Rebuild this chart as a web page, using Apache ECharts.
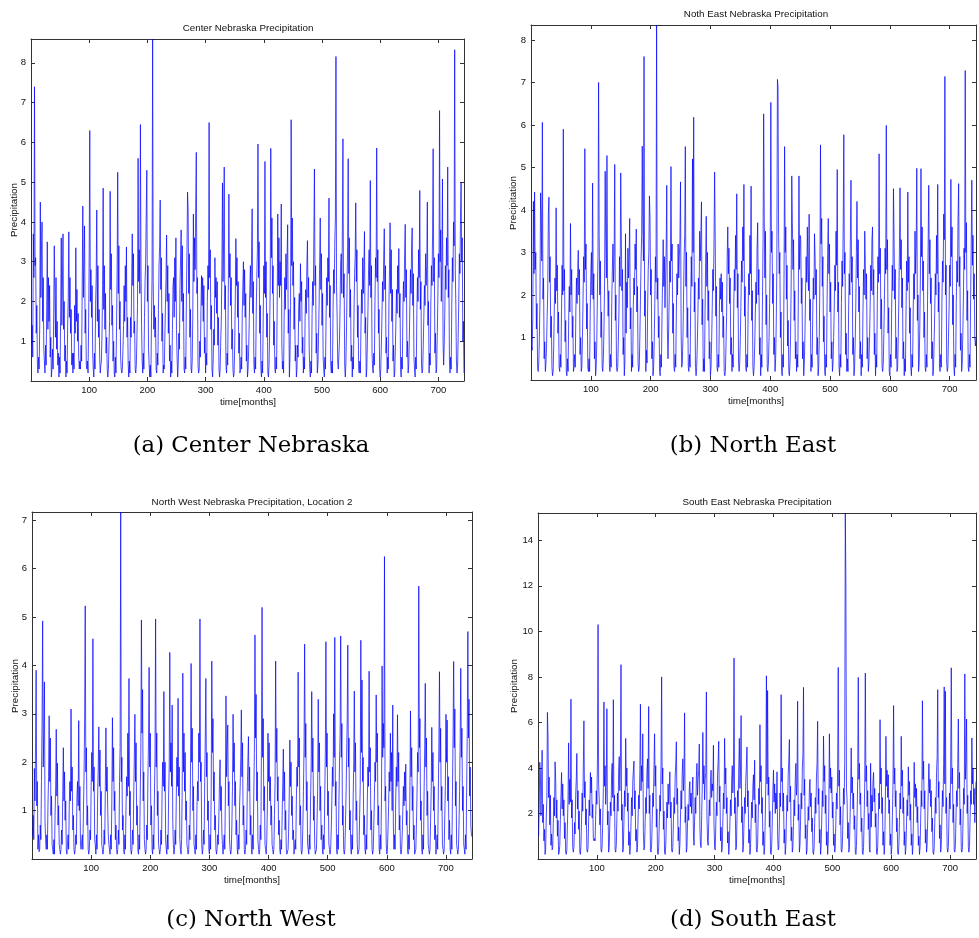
<!DOCTYPE html>
<html>
<head>
<meta charset="utf-8">
<script src="https://cdn.jsdelivr.net/npm/echarts@6/dist/echarts.min.js"></script>
<style>html,body{margin:0;padding:0;background:#fff;}#c{width:979px;height:938px;}</style>
</head>
<body>
<div id="c"></div>
<script>
// Monthly precipitation, months 1..744 (12 values per row = one year)
const centerVals = [
0.9,1.4,0.6,3.7,2.6,7.4,2.9,3.1,1.2,1.9,0.4,0.2,
0.6,0.3,1.4,4.5,2.1,3.3,4.0,1.5,2.6,0.8,0.5,0.2,
0.9,0.4,1.9,3.5,1.3,2.6,1.5,2.4,0.6,1.1,0.1,0.3,
0.8,0.3,1.7,3.4,2.2,1.1,2.6,0.8,1.5,0.4,0.7,0.1,
0.6,0.2,1.8,3.6,1.4,2.4,3.7,1.3,2.0,0.5,0.9,0.1,
0.5,0.2,1.4,2.1,3.75,1.6,2.6,1.2,1.8,0.4,0.7,0.2,
0.7,0.3,1.9,1.2,3.35,1.5,2.3,1.0,1.7,0.6,0.3,0.5,
0.3,0.9,0.5,2.4,4.4,2.1,3.0,3.9,1.2,1.8,0.4,0.3,
0.5,0.2,1.4,3.2,6.3,2.0,2.8,1.6,2.4,0.7,0.3,0.1,
0.7,0.3,1.9,2.6,4.3,1.5,2.9,1.1,1.8,0.6,0.2,0.4,
0.5,1.2,2.4,4.85,1.8,2.9,1.3,2.2,0.7,1.1,0.3,0.1,
0.3,0.9,1.5,4.77,2.3,3.2,1.4,1.9,0.5,1.0,0.2,0.1,
0.6,0.2,1.4,2.8,5.25,2.2,3.4,1.3,2.0,0.6,0.3,0.2,
0.3,0.8,1.4,2.4,1.5,2.9,2.0,3.37,1.1,1.6,0.4,0.1,
0.5,0.2,1.6,1.1,2.6,3.7,2.4,3.2,1.2,1.5,0.3,0.2,
0.4,1.1,1.9,5.6,2.5,3.3,2.2,6.45,2.9,1.4,0.5,0.2,
0.7,0.3,1.6,2.5,3.0,4.2,5.3,2.0,2.9,0.8,0.4,0.1,
0.4,0.1,1.5,2.6,8.6,2.5,1.3,1.9,1.1,1.6,0.3,0.2,
0.7,0.4,1.8,2.9,3.4,4.55,2.3,3.1,1.0,1.7,0.2,0.4,
0.3,1.1,1.9,2.6,3.67,2.0,2.9,1.2,2.2,0.5,0.9,0.1,
0.5,0.2,1.3,2.4,2.6,1.6,3.1,2.0,3.6,1.3,0.6,0.1,
0.4,1.2,0.8,2.4,3.1,3.8,2.0,3.4,1.5,2.2,0.3,0.2,
0.6,0.3,2.1,3.3,4.75,4.3,2.2,3.2,1.1,1.8,0.3,0.2,
0.5,1.6,4.2,2.5,3.6,2.8,4.4,5.75,2.2,2.6,0.4,0.2,
0.3,1.0,0.6,1.8,2.65,1.9,2.6,1.5,2.4,0.7,1.1,0.2,
0.7,0.4,2.0,2.9,2.3,6.5,2.6,3.3,1.3,1.9,0.3,0.1,
0.5,1.3,0.9,3.1,2.1,2.6,1.7,2.5,0.9,1.6,0.3,0.1,
0.3,1.0,1.5,2.9,4.98,2.5,3.6,5.38,1.8,2.4,0.4,0.2,
0.7,0.4,2.2,4.7,2.6,3.2,1.9,2.6,0.8,1.3,0.3,0.1,
0.2,0.9,2.0,3.58,2.4,3.1,1.6,2.5,0.7,1.2,0.2,0.3,
0.6,0.3,1.7,2.4,3.0,1.9,2.8,1.6,2.2,0.5,0.9,0.1,
0.3,0.8,1.5,2.3,2.9,2.1,3.2,4.33,1.7,2.5,0.4,0.2,
0.6,0.3,1.7,2.6,3.3,5.96,2.6,3.5,1.2,1.9,0.3,0.1,
0.5,0.2,1.6,2.9,2.2,5.52,2.1,3.0,1.1,1.7,0.2,0.1,
0.4,1.2,2.3,5.85,3.1,4.1,2.2,2.9,0.9,1.5,0.3,0.2,
0.6,0.3,1.9,4.2,2.4,3.6,2.1,3.0,2.4,4.45,1.0,0.3,
0.5,0.2,1.6,2.6,1.8,3.2,2.3,3.1,3.93,1.2,1.8,0.1,
0.6,1.9,6.57,2.9,4.1,2.4,3.0,1.3,2.1,0.5,0.9,0.1,
0.3,0.9,0.6,1.9,2.2,1.5,2.95,2.0,2.5,0.7,1.1,0.2,
0.6,0.3,1.6,2.3,1.7,2.9,3.53,2.1,2.6,0.8,0.3,0.1,
0.5,0.2,1.7,2.5,1.9,3.6,5.33,2.4,2.9,0.7,1.2,0.2,
0.4,1.1,1.9,3.0,4.1,2.3,3.2,1.4,2.2,0.6,0.3,0.1,
0.6,0.3,1.6,2.6,1.9,3.1,2.5,4.6,1.6,2.4,0.4,0.2,
0.5,0.2,1.8,2.8,2.2,3.5,4.1,8.16,2.4,1.6,0.5,0.3,
0.3,1.0,1.8,2.9,3.2,2.2,3.8,6.09,2.1,2.7,0.4,0.1,
0.4,1.2,2.3,3.4,5.59,2.7,3.6,1.6,2.3,0.5,0.9,0.1,
0.6,0.3,1.7,2.7,3.1,4.48,2.5,3.3,1.1,1.9,0.3,0.2,
0.5,0.2,1.4,2.3,1.7,3.1,2.2,2.9,3.76,1.2,1.6,0.1,
0.3,1.0,1.8,2.8,3.3,2.4,5.04,2.1,2.9,0.7,0.3,0.2,
0.7,0.4,2.0,3.1,2.6,5.86,2.5,3.3,1.2,1.8,0.3,0.1,
0.3,0.9,1.6,2.5,2.0,3.1,3.83,2.3,2.9,0.7,1.1,0.2,
0.6,0.3,1.9,2.8,3.98,2.2,3.3,1.5,2.3,0.5,0.9,0.1,
0.2,0.8,1.5,2.3,1.7,2.9,2.2,3.33,1.6,2.2,0.3,0.1,
0.6,0.3,1.8,2.5,2.0,3.2,3.94,2.1,2.8,0.6,1.0,0.2,
0.4,1.0,1.9,2.8,2.2,3.4,3.85,1.9,2.7,0.6,0.3,0.1,
0.6,0.3,1.7,2.6,2.0,3.3,2.6,4.79,1.8,2.5,0.4,0.2,
0.3,0.9,1.6,2.4,1.9,3.2,2.4,2.9,4.5,1.4,2.0,0.2,
0.7,0.4,1.9,2.9,2.4,3.7,5.84,2.5,3.1,0.7,1.2,0.2,
0.3,1.1,2.0,3.2,2.6,6.8,3.0,3.8,2.0,2.9,5.08,1.0,
0.4,0.9,1.7,2.9,2.3,3.6,2.9,5.38,2.1,2.8,0.5,0.2,
0.6,0.3,1.9,3.1,2.5,4.0,3.4,8.33,2.8,1.9,0.5,0.2,
0.4,1.1,2.0,3.2,2.7,4.1,5.0,3.0,3.6,1.0,1.5,0.2
];
const northEastVals = [
0.8,0.7,1.5,4.2,2.5,4.42,2.6,3.0,1.2,1.8,0.3,0.2,
0.4,1.0,1.9,4.4,3.9,2.8,6.06,1.9,2.4,0.5,0.9,0.2,
0.4,0.8,1.5,2.1,3.9,4.3,2.3,2.9,1.0,1.5,0.3,0.1,
0.2,0.8,1.7,2.4,1.8,4.05,2.1,2.7,1.1,1.6,0.3,0.2,
0.6,0.3,1.6,2.7,2.0,5.9,2.1,2.6,0.9,1.4,0.2,0.1,
0.5,0.2,1.4,2.2,1.6,3.68,2.0,2.6,1.0,1.5,0.2,0.3,
0.6,0.3,1.6,2.4,1.8,2.5,3.05,2.0,2.6,0.6,1.0,0.2,
0.3,1.0,1.9,2.9,2.3,5.44,2.6,3.2,1.2,1.8,0.3,0.2,
0.5,0.2,1.6,2.5,3.0,2.0,4.63,1.9,2.5,0.5,0.9,0.1,
0.3,0.9,2.0,2.9,7.0,3.4,2.0,2.8,1.0,1.6,0.3,0.2,
0.5,1.2,2.3,4.91,3.3,2.4,5.28,2.4,1.5,2.1,0.4,0.2,
0.6,0.3,1.8,2.6,3.2,2.3,2.9,5.07,1.4,2.0,0.3,0.2,
0.3,0.9,1.6,2.9,2.2,4.87,3.4,2.1,2.6,0.6,1.0,0.1,
0.4,3.44,1.1,2.3,1.7,3.1,2.4,2.9,3.8,1.2,1.7,0.2,
0.6,0.3,1.7,2.4,2.0,3.2,2.6,3.55,1.6,2.2,0.4,0.2,
0.3,1.0,1.9,2.8,3.4,5.5,3.6,2.8,7.61,1.5,2.1,0.2,
0.7,0.4,1.7,2.6,3.0,4.33,3.8,2.0,2.6,0.5,0.9,0.1,
0.3,0.9,1.8,2.9,2.3,8.35,1.9,2.4,1.0,1.5,0.2,0.1,
0.6,0.3,1.5,2.4,3.3,2.2,2.9,1.7,2.4,3.1,4.58,1.2,
0.5,1.1,1.9,2.8,2.3,5.02,2.8,3.2,1.1,1.8,0.3,0.2,
0.6,0.3,1.6,2.5,2.0,3.2,2.4,2.9,3.3,4.66,1.1,0.3,
0.4,1.0,1.9,2.9,3.4,5.49,2.2,3.0,1.0,1.7,0.3,0.2,
0.6,0.3,1.8,2.9,2.2,5.2,3.0,6.18,1.6,2.3,0.3,0.1,
0.3,0.8,1.5,2.4,1.9,3.5,2.8,3.4,4.19,1.3,1.9,0.2,
0.5,0.2,1.6,2.8,3.85,2.2,3.0,1.4,2.1,0.5,0.9,0.1,
0.3,0.9,1.7,2.6,2.1,3.3,4.89,3.3,1.5,2.2,0.3,0.2,
0.6,0.3,1.7,2.4,1.9,2.5,1.6,2.3,1.0,1.5,0.2,0.1,
0.2,0.8,1.5,2.9,3.6,2.5,3.1,1.8,2.4,0.6,1.0,0.2,
0.6,0.3,1.7,2.6,2.1,3.4,2.6,4.38,1.7,2.5,0.4,0.2,
0.4,1.0,1.8,2.8,2.3,3.6,2.8,4.6,1.5,2.2,0.3,0.2,
0.6,0.3,1.6,2.5,2.0,3.4,2.5,4.56,1.4,2.1,0.3,0.1,
0.3,0.8,1.5,2.3,1.8,3.1,3.7,2.0,2.6,0.6,1.0,0.1,
0.6,0.3,1.9,3.3,6.26,3.8,2.4,3.5,1.3,2.0,0.3,0.2,
0.4,1.0,1.8,3.1,6.53,3.0,3.5,1.8,2.5,0.6,1.0,0.2,
0.5,1.3,2.6,7.07,6.9,3.4,2.5,3.0,1.0,1.6,0.2,0.1,
0.6,0.3,2.3,5.49,3.0,3.6,1.9,2.7,0.8,1.4,0.2,0.1,
0.4,1.1,2.3,4.8,3.7,2.6,3.3,1.4,2.1,0.5,0.9,0.2,
0.6,0.3,2.0,4.8,2.6,3.4,3.3,1.8,2.4,0.5,0.9,0.1,
0.4,1.1,2.0,2.9,2.3,3.6,2.6,2.1,3.9,1.4,1.9,0.2,
0.6,0.3,1.5,2.4,1.9,3.44,2.9,2.0,2.6,0.6,1.0,0.1,
0.3,1.0,2.4,5.53,3.2,3.8,2.2,2.9,0.9,1.5,0.2,0.1,
0.6,0.3,1.8,3.0,3.8,2.5,3.2,1.6,2.3,0.5,0.9,0.2,
0.4,1.0,1.7,2.7,2.1,3.5,2.7,4.95,1.6,2.3,0.3,0.1,
0.6,0.3,1.8,2.8,2.2,3.7,5.77,2.5,3.0,0.6,1.1,0.2,
0.5,0.2,1.6,2.5,2.0,3.4,4.7,2.3,2.9,0.6,1.0,0.1,
0.3,0.9,1.7,3.0,4.2,2.4,3.3,1.6,2.2,0.5,0.9,0.1,
0.6,0.3,1.6,2.6,2.0,3.5,2.7,1.9,2.5,0.5,1.0,0.2,
0.4,1.0,1.7,2.7,2.1,3.3,3.6,2.0,2.6,0.6,1.1,0.1,
0.6,0.3,1.8,2.9,2.3,5.32,2.5,3.1,1.2,1.9,0.3,0.2,
0.4,1.1,2.0,3.1,2.5,5.99,2.6,3.3,1.1,1.7,0.2,0.1,
0.6,0.3,1.7,2.7,2.1,4.5,3.4,1.9,2.6,0.5,1.0,0.2,
0.3,1.0,1.9,3.1,4.52,2.6,3.3,1.7,2.4,0.5,0.9,0.1,
0.5,0.2,1.6,2.8,2.1,4.42,2.3,2.9,1.1,1.7,0.3,0.1,
0.6,0.3,1.6,2.5,1.9,3.5,2.5,3.2,4.98,1.4,2.0,0.2,
0.4,1.2,2.4,4.97,2.9,3.6,2.1,2.8,1.0,1.6,0.3,0.2,
0.6,0.3,1.9,3.2,4.58,2.5,3.3,1.8,2.4,0.5,0.9,0.1,
0.3,0.9,1.6,2.5,2.0,3.4,2.5,4.6,1.6,2.3,0.3,0.2,
0.6,0.3,1.8,2.8,2.3,3.9,3.3,7.14,2.0,2.7,0.4,0.2,
0.3,1.0,1.7,2.7,2.2,4.72,2.9,3.6,1.3,2.0,0.3,0.1,
0.6,0.3,1.8,2.8,2.3,3.8,4.62,2.2,2.9,0.7,1.1,0.2,
0.4,1.1,2.0,3.1,2.6,7.28,3.0,3.7,1.4,2.1,0.3,0.2,
0.6,0.3,1.9,3.2,4.7,2.7,3.4,1.9,2.5,1.0,0.8,1.0
];
const northWestVals = [
0.46,0.9,0.4,1.87,1.2,2.4,3.9,1.1,1.6,0.2,0.5,0.15,
0.2,0.7,0.4,1.6,2.8,4.92,1.9,2.6,3.66,0.8,0.4,0.2,
0.5,0.2,1.1,1.7,2.96,1.6,2.5,0.9,1.3,0.3,0.2,0.1,
0.4,0.1,0.9,1.5,2.68,1.3,1.98,0.7,1.1,0.3,0.2,0.1,
0.2,0.6,0.3,1.4,2.3,1.2,1.8,0.8,1.2,0.2,0.1,0.1,
0.5,0.2,1.1,1.6,1.2,3.1,1.4,1.9,0.6,0.9,0.2,0.1,
0.2,0.5,0.3,1.3,1.6,1.1,2.86,1.0,1.5,0.3,0.2,0.2,
0.5,0.2,1.0,1.7,2.87,5.23,1.8,2.3,0.7,1.1,0.2,0.1,
0.2,0.6,0.4,1.5,2.2,1.6,4.55,1.4,1.9,0.4,0.3,0.1,
0.5,0.2,1.3,1.9,2.73,1.5,2.25,0.9,1.4,0.3,0.2,0.1,
0.2,0.6,0.3,1.5,2.71,1.4,1.9,1.08,0.5,0.3,0.2,0.1,
0.5,0.2,1.2,2.92,1.6,2.3,1.0,1.4,0.4,0.7,0.2,0.1,
0.2,0.6,0.3,1.6,2.3,7.17,1.6,2.1,0.6,0.9,0.2,0.1,
0.5,0.2,1.1,1.7,1.3,2.6,1.5,3.73,0.9,1.4,0.2,0.1,
0.2,0.6,0.3,1.3,2.1,2.99,1.6,2.4,0.7,1.1,0.2,0.1,
0.5,0.2,1.3,2.2,4.94,2.6,3.5,1.2,1.8,0.4,0.2,0.1,
0.2,0.7,0.4,1.7,2.4,3.96,1.9,2.6,0.7,1.1,0.2,0.1,
0.5,0.2,1.3,2.1,4.96,1.9,2.6,0.9,1.4,0.3,0.2,0.1,
0.2,0.6,0.3,1.4,2.0,1.5,3.46,1.4,2.0,0.4,0.2,0.1,
0.5,0.2,1.3,1.9,4.27,1.8,2.4,1.5,3.18,0.8,0.3,0.1,
0.2,0.6,0.3,1.3,2.1,1.5,3.32,1.3,1.9,0.4,0.2,0.1,
0.4,1.5,3.84,1.8,2.6,1.4,2.2,0.8,1.2,0.3,0.2,0.1,
0.2,0.7,0.4,1.8,4.04,2.0,2.7,1.0,1.5,0.3,0.2,0.1,
0.5,0.2,1.1,1.6,1.2,2.6,2.0,4.96,1.6,2.0,0.3,0.1,
0.2,0.6,0.3,1.6,2.5,3.73,1.7,2.2,0.8,1.2,0.2,0.1,
0.5,0.2,1.4,4.09,2.2,2.9,1.2,1.8,0.6,0.9,0.2,0.1,
0.2,0.5,0.3,0.9,1.6,2.05,1.0,1.5,0.6,0.3,0.1,0.1,
0.5,0.2,1.3,3.37,1.7,2.3,2.77,1.1,1.6,0.4,0.2,0.1,
0.2,0.7,1.5,2.99,1.8,2.4,1.1,1.6,0.5,0.8,0.2,0.1,
0.5,0.2,1.1,1.5,2.1,3.08,1.7,2.4,0.7,1.1,0.2,0.1,
0.2,0.6,0.3,1.4,2.0,2.53,1.4,1.9,0.5,0.9,0.2,0.1,
0.5,0.2,1.3,2.2,4.63,2.5,3.4,1.2,1.8,0.4,0.2,0.1,
0.2,0.7,0.4,2.4,5.2,2.1,2.9,1.0,1.5,0.3,0.2,0.1,
0.4,1.1,2.6,1.6,2.4,1.2,1.7,0.7,1.1,0.3,0.2,0.1,
0.2,0.9,1.6,4.09,2.0,2.7,1.2,1.7,0.5,0.8,0.2,0.1,
0.4,0.2,0.9,1.6,2.27,1.2,1.8,0.6,1.0,0.2,0.1,0.1,
0.2,0.6,1.3,2.46,1.5,2.0,0.9,1.3,0.4,0.6,0.1,0.1,
0.4,0.2,1.2,1.9,1.5,3.86,1.9,2.5,0.7,1.1,0.2,0.1,
0.2,0.7,1.4,2.3,4.44,2.1,2.8,1.0,1.6,0.3,0.2,0.1,
0.5,0.2,1.2,1.9,3.46,1.8,2.5,0.8,1.3,0.3,0.1,0.1,
0.2,0.8,1.4,3.3,1.8,2.4,1.0,1.5,0.4,0.7,0.2,0.1,
0.5,0.2,1.3,2.2,4.49,1.9,2.6,0.9,1.4,0.3,0.2,0.1,
0.2,0.6,1.2,1.9,1.5,3.0,2.1,4.58,1.1,1.6,0.2,0.1,
0.5,0.2,1.2,2.0,2.6,4.61,2.1,2.8,0.7,1.1,0.2,0.1,
0.2,0.7,1.3,2.1,2.9,4.42,1.9,2.5,0.6,1.0,0.2,0.1,
0.5,0.2,1.2,2.0,3.47,1.8,2.4,0.8,1.2,0.3,0.1,0.1,
0.2,0.9,1.5,4.52,2.2,3.7,1.6,2.1,0.5,0.9,0.2,0.1,
0.5,0.2,1.2,1.9,1.5,3.88,1.8,2.3,0.6,1.0,0.2,0.1,
0.2,0.7,1.3,2.0,1.6,3.39,2.0,2.6,0.7,1.1,0.2,0.1,
0.5,0.2,1.4,3.99,2.1,2.8,2.3,6.25,1.2,1.5,0.3,0.1,
0.2,0.6,1.1,1.8,1.4,2.6,1.6,2.2,1.0,3.18,0.7,0.2,
0.5,0.2,1.2,1.9,1.5,2.98,1.6,2.2,0.6,0.9,0.2,0.1,
0.2,0.5,1.0,1.5,1.1,1.8,1.2,1.96,0.7,1.0,0.2,0.1,
0.5,0.2,1.4,3.06,1.7,2.3,1.0,1.5,0.4,0.7,0.1,0.1,
0.2,0.7,1.3,2.2,1.8,5.64,2.3,2.9,0.8,1.2,0.2,0.1,
0.5,0.2,1.4,2.3,3.63,1.9,2.5,0.9,1.4,0.3,0.2,0.1,
0.2,0.8,1.4,2.72,1.6,2.2,1.0,1.5,0.4,0.7,0.1,0.1,
0.5,0.2,1.3,2.4,3.87,2.0,2.7,1.0,1.5,0.3,0.2,0.1,
0.2,0.9,1.5,2.99,2.0,2.87,1.2,1.7,0.4,0.8,0.2,0.1,
0.5,0.2,1.4,2.6,4.08,2.3,3.1,1.1,1.6,0.3,0.2,0.1,
0.2,0.7,1.4,2.5,3.94,2.1,2.7,1.0,1.5,0.3,0.2,0.1,
0.5,0.2,1.5,2.7,4.7,2.5,3.3,1.3,1.9,0.7,0.5,0.46
];
const southEastVals = [
1.0,2.2,4.25,3.86,1.9,3.1,4.78,1.6,2.4,0.8,1.3,0.2,
0.4,1.8,2.6,6.44,5.4,2.7,3.6,1.5,2.8,0.6,1.1,0.4,
0.5,1.6,2.7,1.9,4.27,3.5,1.8,2.6,1.0,1.7,0.2,0.3,
0.6,1.7,2.8,3.8,2.2,3.3,1.9,2.6,0.9,1.6,0.3,0.2,
0.4,1.5,2.6,5.1,2.4,3.5,2.5,7.02,1.8,2.6,0.5,0.3,
0.5,1.6,1.1,2.8,3.5,4.64,2.2,3.0,1.3,2.1,0.3,0.2,
0.6,1.8,2.9,2.1,4.1,6.07,2.7,3.4,1.5,2.2,0.4,0.3,
0.5,1.7,2.6,1.9,3.8,2.9,3.6,1.8,2.4,0.9,0.8,0.9,
0.8,1.9,3.0,2.4,4.4,10.3,3.3,2.6,1.5,2.2,0.4,0.3,
0.6,1.7,3.1,6.9,3.2,4.1,2.4,3.3,6.6,1.5,2.1,0.3,
0.5,1.6,2.5,1.9,3.7,4.2,2.7,7.0,2.1,2.8,0.4,0.3,
0.6,1.8,2.9,2.1,3.9,4.5,3.0,4.2,8.54,1.7,2.4,0.3,
0.5,1.7,3.0,2.3,5.3,3.2,4.0,2.1,2.9,0.6,1.2,0.2,
0.6,1.6,2.7,1.9,3.4,3.9,4.3,2.2,3.0,0.8,1.3,0.3,
0.5,1.8,2.8,2.2,3.9,6.8,3.0,4.1,3.4,5.5,1.2,0.4,
0.5,1.6,2.7,2.0,3.8,4.4,3.1,6.7,2.0,2.8,0.4,0.3,
0.6,1.7,2.9,2.3,4.0,5.5,3.2,4.1,1.4,2.2,0.3,0.2,
0.5,1.6,2.8,2.1,4.3,8.0,3.3,4.0,1.3,2.1,0.3,0.2,
0.6,1.7,2.5,1.8,3.3,2.4,3.0,3.83,1.8,2.5,0.4,0.3,
0.5,1.6,2.7,2.0,3.6,4.2,5.15,2.4,3.1,0.8,1.4,0.2,
0.6,1.8,3.0,2.2,3.8,4.4,3.0,3.7,6.42,1.6,2.3,0.3,
0.5,1.6,2.4,1.7,3.1,3.4,2.3,2.9,2.0,2.9,3.6,1.1,
0.6,1.7,2.7,2.0,3.6,4.2,2.8,3.5,3.9,5.05,1.4,0.6,
0.5,1.9,3.1,5.56,3.3,4.1,2.6,3.5,3.8,7.34,1.9,0.8,
0.6,1.6,2.6,1.9,3.4,3.9,2.7,3.3,3.0,5.0,1.5,0.5,
0.4,1.5,2.5,1.9,3.7,4.3,5.17,2.5,3.2,0.8,1.4,0.3,
0.5,1.7,2.9,2.2,5.3,3.3,4.0,2.0,2.7,0.7,1.2,0.2,
0.6,1.6,2.6,1.9,3.5,4.1,2.9,3.6,8.83,2.0,2.7,0.4,
0.5,1.8,3.0,2.3,4.0,5.3,3.1,3.8,6.3,1.6,2.3,0.3,
0.6,1.7,2.7,2.0,3.5,4.1,4.92,2.3,3.0,0.7,1.3,0.2,
0.5,1.6,2.5,1.8,3.2,3.7,2.6,4.34,1.6,2.4,0.4,0.3,
0.6,1.9,3.1,2.4,5.9,3.4,4.1,2.0,2.7,0.6,1.2,0.2,
0.5,1.8,3.4,8.05,3.3,7.4,2.8,3.6,1.4,2.1,0.3,0.2,
0.6,1.7,3.0,3.9,2.5,3.3,2.0,2.9,2.2,3.83,1.1,0.4,
0.5,1.6,2.9,2.3,7.22,3.4,4.0,2.1,2.9,0.7,1.3,0.2,
0.6,1.8,2.8,2.1,3.7,4.3,5.25,2.5,3.2,0.8,1.4,0.3,
0.5,1.6,2.6,1.9,3.5,4.2,2.8,3.4,6.93,1.7,2.4,0.3,
0.6,1.7,2.9,2.2,4.0,4.6,7.54,2.8,3.5,0.9,1.5,0.2,
0.4,1.4,2.3,1.7,3.1,3.5,2.3,2.9,1.2,1.8,0.3,0.2,
0.5,1.6,2.7,2.0,3.6,4.2,6.05,2.4,3.1,0.7,1.3,0.2,
0.6,1.8,3.0,2.3,5.4,3.4,4.1,2.0,2.8,0.6,1.2,0.2,
0.7,2.2,5.5,3.1,4.0,2.9,3.6,1.8,2.5,0.6,1.1,0.3,
0.5,1.7,2.9,2.2,4.1,8.42,3.2,3.9,1.5,2.3,0.4,0.3,
0.6,1.8,3.1,2.4,4.3,15.2,12.1,3.1,2.6,0.9,1.6,0.3,
0.5,1.7,3.0,4.88,2.9,3.6,2.2,2.9,1.3,1.9,0.3,0.2,
0.6,1.9,3.4,7.98,3.5,4.2,2.4,2.9,1.2,1.8,0.3,0.2,
0.5,1.8,3.3,8.17,3.4,4.1,2.3,3.0,1.3,2.0,0.4,0.3,
4.2,1.4,2.8,2.1,3.4,3.8,2.5,3.1,1.4,2.0,0.3,0.2,
0.5,1.7,2.9,2.2,6.12,3.3,4.0,2.0,2.7,0.6,1.2,0.2,
0.7,2.4,5.39,3.2,3.9,2.7,3.7,2.0,2.6,0.6,1.1,0.2,
0.5,1.9,3.3,6.74,3.3,4.0,2.3,3.0,1.2,1.8,0.3,0.2,
0.6,1.7,2.9,2.2,5.39,3.2,3.9,2.0,2.7,0.6,1.2,0.2,
0.5,1.6,2.6,1.9,4.05,2.8,3.4,1.7,2.4,0.6,1.1,0.2,
0.6,2.2,4.25,2.7,3.3,2.3,3.1,1.6,2.3,0.6,1.0,0.2,
0.5,1.7,3.0,2.3,6.95,3.5,4.3,2.2,3.0,0.7,1.3,0.3,
0.6,1.8,3.1,4.19,2.9,3.5,2.3,3.0,1.2,1.8,0.3,0.2,
0.5,1.6,2.7,2.0,3.8,4.5,7.44,2.7,3.4,0.9,1.5,0.3,
0.6,1.8,3.0,2.3,4.2,7.56,3.3,7.37,2.0,2.7,0.5,0.3,
0.5,1.7,2.9,2.2,4.1,8.4,3.3,4.0,1.6,2.4,0.4,0.3,
0.6,1.8,3.0,2.3,4.2,6.15,3.1,3.8,1.5,2.2,0.4,0.3,
0.5,1.7,3.1,2.4,8.13,3.5,4.3,6.15,2.0,2.8,0.5,0.3,
0.6,1.8,3.0,2.4,5.32,3.3,4.0,2.4,3.1,1.6,2.8,3.4
];
const xTicks = [100, 200, 300, 400, 500, 600, 700];
const panelTitles = ['Center Nebraska Precipitation', 'Noth East Nebraska Precipitation',
  'North West Nebraska Precipitation, Location 2', 'South East Nebraska Precipitation'];
const captions = ['(a) Center Nebraska', '(b) North East', '(c) North West', '(d) South East'];
const yMaxes = [8.6, 8.35, 7.17, 15.2];
const yIntervals = [1, 1, 1, 2];
const xLabel = 'time[months]';
const yLabel = 'Precipitation';

const series = [centerVals, northEastVals, northWestVals, southEastVals];
const grids = [
  {left: 31, top: 39, width: 433, height: 342},
  {left: 531, top: 25, width: 450, height: 355},
  {left: 32, top: 512, width: 440, height: 347},
  {left: 538, top: 513, width: 439, height: 346}
];
const titlePos = [[248, 28], [756, 14], [252, 502], [757, 502]];
const xNamePos = [[248, 402], [756, 401], [252, 880], [757, 880]];
const yNamePos = [[14, 210], [513, 203], [15, 686], [514, 686]];
const capPos = [[251, 446], [753, 446], [251, 920], [753, 920]];

const axisColor = '#333';
const tickFont = {fontFamily: 'Liberation Sans, Arial, sans-serif', fontSize: 9.5, color: '#111'};
const xAxes = [], yAxes = [], ser = [], graphics = [];
grids.forEach((g, i) => {
  const xBase = {gridIndex: i, type: 'value', min: 0, max: 744, interval: 100,
    splitLine: {show: false},
    axisLine: {show: true, onZero: false, lineStyle: {color: axisColor, width: 1}},
    axisTick: {show: true, inside: true, length: 4, lineStyle: {color: axisColor}}};
  xAxes.push(Object.assign({}, xBase, {position: 'bottom',
    axisLabel: Object.assign({margin: 4, formatter: v => xTicks.indexOf(v) >= 0 ? String(v) : ''}, tickFont)}));
  xAxes.push(Object.assign({}, xBase, {position: 'top', axisLabel: {show: false}}));
  const iv = yIntervals[i];
  const yBase = {gridIndex: i, type: 'value', min: 0, max: yMaxes[i], interval: iv,
    splitLine: {show: false},
    axisLine: {show: true, onZero: false, lineStyle: {color: axisColor, width: 1}},
    axisTick: {show: true, inside: true, length: 4, lineStyle: {color: axisColor}}};
  yAxes.push(Object.assign({}, yBase, {position: 'left',
    axisLabel: Object.assign({margin: 5, formatter: v => (v > 0 && Math.abs(v / iv - Math.round(v / iv)) < 1e-9) ? String(v) : ''}, tickFont)}));
  yAxes.push(Object.assign({}, yBase, {position: 'right', axisLabel: {show: false}}));
  ser.push({type: 'line', xAxisIndex: 2 * i, yAxisIndex: 2 * i,
    data: series[i].map((v, k) => [k + 1, v]),
    showSymbol: false, symbol: 'none', silent: true,
    lineStyle: {color: '#0000ff', width: 0.7}});
  const tf = '9.8px "Liberation Sans", Arial, sans-serif';
  graphics.push({type: 'text', x: titlePos[i][0], y: titlePos[i][1],
    style: {text: panelTitles[i], font: tf, fill: '#111', align: 'center', verticalAlign: 'middle', textAlign: 'center', textVerticalAlign: 'middle'}});
  graphics.push({type: 'text', x: xNamePos[i][0], y: xNamePos[i][1],
    style: {text: xLabel, font: tf, fill: '#111', align: 'center', verticalAlign: 'middle', textAlign: 'center', textVerticalAlign: 'middle'}});
  graphics.push({type: 'text', x: yNamePos[i][0], y: yNamePos[i][1], rotation: Math.PI / 2,
    style: {text: yLabel, font: tf, fill: '#111', align: 'center', verticalAlign: 'middle', textAlign: 'center', textVerticalAlign: 'middle'}});
  graphics.push({type: 'text', x: capPos[i][0], y: capPos[i][1],
    style: {text: captions[i], font: '22.8px "DejaVu Serif", serif', fill: '#000', align: 'center', verticalAlign: 'middle', textAlign: 'center', textVerticalAlign: 'middle'}});
});

const chart = echarts.init(document.getElementById('c'), null, {renderer: 'canvas'});
chart.setOption({
  animation: false,
  backgroundColor: '#fff',
  grid: grids.map(g => Object.assign({containLabel: false}, g)),
  xAxis: xAxes,
  yAxis: yAxes,
  series: ser,
  graphic: graphics
});
</script>
</body>
</html>
